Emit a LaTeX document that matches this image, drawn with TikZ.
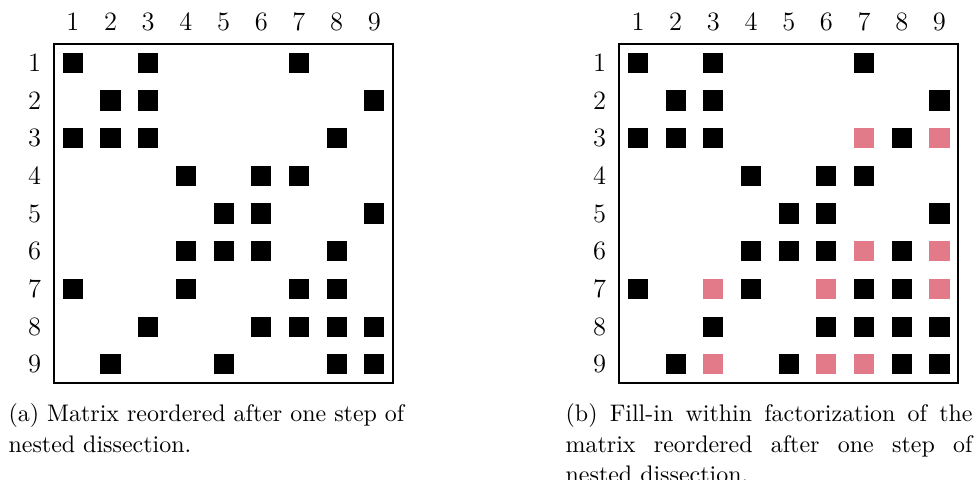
\documentclass[tikz,border=0pt]{standalone}
\usepackage{tikz}
\usetikzlibrary{positioning}
\usepackage{xcolor}
\definecolor{fillin}{HTML}{E27A89}

\begin{document}
\begin{tikzpicture}[
    entry/.style={rectangle, fill=black, minimum size=0.32cm, inner sep=0pt},
    fillentry/.style={rectangle, fill=fillin, minimum size=0.32cm, inner sep=0pt},
    idx/.style={font=\large, inner sep=0pt},
    caption/.style={anchor=north west, inner sep=0pt, font=\fontsize{10.85}{13.8}\selectfont}]
    \useasboundingbox (-0.86,0.70) rectangle (14.65,-6.93);

    % Matrix after one step of nested dissection
    \draw[thick] (0,0) rectangle (5.4,-5.4);
    \foreach \i in {1,...,9} {
        \node[idx] (a-col-\i) at (0.6*\i-0.3,0.35) {\i};
        \node[idx] (a-row-\i) at (-0.31,-0.6*\i+0.3) {\i};
    }
    \foreach \r/\c in {1/1,1/3,1/7, 2/2,2/3,2/9, 3/1,3/2,3/3,3/8, 4/4,4/6,4/7,
                       5/5,5/6,5/9, 6/4,6/5,6/6,6/8, 7/1,7/4,7/7,7/8,
                       8/3,8/6,8/7,8/8,8/9, 9/2,9/5,9/8,9/9}
        \node[entry] (a-\r-\c) at (0.6*\c-0.3,-0.6*\r+0.3) {};

    % Same matrix with fill-in
    \draw[thick] (9,0) rectangle (14.4,-5.4);
    \foreach \i in {1,...,9} {
        \node[idx] (b-col-\i) at (9+0.6*\i-0.3,0.35) {\i};
        \node[idx] (b-row-\i) at (9-0.31,-0.6*\i+0.3) {\i};
    }
    \foreach \r/\c in {1/1,1/3,1/7, 2/2,2/3,2/9, 3/1,3/2,3/3,3/8, 4/4,4/6,4/7,
                       5/5,5/6,5/9, 6/4,6/5,6/6,6/8, 7/1,7/4,7/7,7/8,
                       8/3,8/6,8/7,8/8,8/9, 9/2,9/5,9/8,9/9}
        \node[entry] (b-\r-\c) at (9+0.6*\c-0.3,-0.6*\r+0.3) {};
    \foreach \r/\c in {3/7,3/9, 6/7,6/9, 7/3,7/6,7/9, 9/3,9/6,9/7}
        \node[fillentry] (b-\r-\c) at (9+0.6*\c-0.3,-0.6*\r+0.3) {};

    % Captions
    \node[caption, text width=6.4cm, align=left] (cap-a) at (-0.73,-5.72)
        {(a) Matrix reordered after one step of\\nested dissection.};
    \node[caption, text width=6.48cm, align=justify] (cap-b) at (8.14,-5.72)
        {\hyphenpenalty=10000 \exhyphenpenalty=10000
         (b) Fill-in within factorization of the matrix reordered after one step of nested dissection.};
\end{tikzpicture}
\end{document}
